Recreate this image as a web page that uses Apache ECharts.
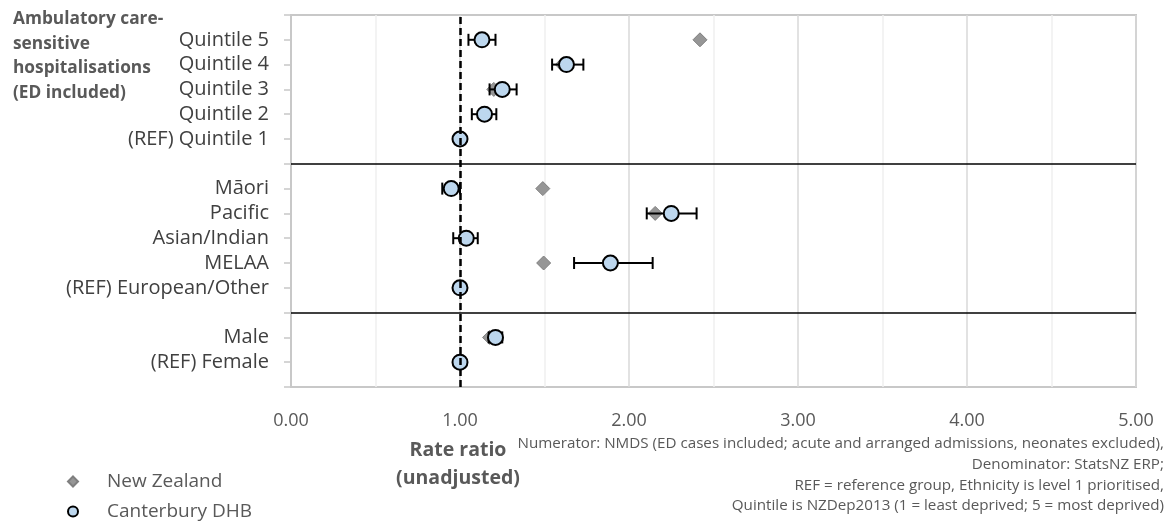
<!DOCTYPE html>
<html>
<head>
<meta charset="utf-8">
<script src="https://cdn.jsdelivr.net/npm/echarts@6/dist/echarts.min.js"></script>
<style>
html,body{margin:0;padding:0;background:#fff;}
#c{width:1167px;height:524px;}
</style>
</head>
<body>
<div id="c"></div>
<script>
// Rows from top to bottom ('' = spacer / separator row)
const rowLabels = ['', 'Quintile 5', 'Quintile 4', 'Quintile 3', 'Quintile 2', '(REF) Quintile 1', '',
  'Māori', 'Pacific', 'Asian/Indian', 'MELAA', '(REF) European/Other', '',
  'Male', '(REF) Female', ''];
const nzRate   = [null, 2.42, 1.605, 1.20, 1.14, 1.00, null, 1.49, 2.155, 1.03, 1.495, 1.00, null, 1.175, 1.00, null];
const cdhbRate = [null, 1.13, 1.63, 1.25, 1.145, 1.00, null, 0.948, 2.25, 1.037, 1.89, 1.00, null, 1.21, 1.00, null];
const cdhbLow  = [null, 1.05, 1.545, 1.175, 1.07, null, null, 0.895, 2.105, 0.96, 1.675, null, null, 1.17, null, null];
const cdhbHigh = [null, 1.21, 1.73, 1.335, 1.215, null, null, 1.00, 2.40, 1.105, 2.14, null, null, 1.25, null, null];
const xTicks = [0, 1, 2, 3, 4, 5];
const seriesNames = ['New Zealand', 'Canterbury DHB'];
const groupTitle = 'Ambulatory care-\nsensitive\nhospitalisations\n(ED included)';
const axisTitle = 'Rate ratio\n(unadjusted)';
const footnote = 'Numerator: NMDS (ED cases included; acute and arranged admissions, neonates excluded),\nDenominator: StatsNZ ERP;\nREF = reference group, Ethnicity is level 1 prioritised,\nQuintile is NZDep2013 (1 = least deprived; 5 = most deprived)';

const nRows = rowLabels.length;
const yOf = i => nRows - 1 - i;
const labelByY = {};
rowLabels.forEach((l, i) => { labelByY[yOf(i)] = l; });
const nzData = [], cdhbData = [], errData = [], sepYs = [];
rowLabels.forEach((l, i) => {
  if (nzRate[i] != null) nzData.push([nzRate[i], yOf(i)]);
  if (cdhbRate[i] != null) cdhbData.push([cdhbRate[i], yOf(i)]);
  if (cdhbLow[i] != null) errData.push([cdhbLow[i], cdhbHigh[i], yOf(i)]);
  if (l === '' && i > 0 && i < nRows - 1) sepYs.push(yOf(i));
});

const FONT = 'Open Sans';
const legendText = { fontSize: 19, color: '#595959', fontFamily: FONT, padding: [0, 0, 0, 24] };
const chart = echarts.init(document.getElementById('c'));
chart.setOption({
  animation: false,
  textStyle: { fontFamily: FONT },
  grid: { left: 291, right: 31, top: 15, bottom: 137, show: true, borderColor: '#c8c8c8', borderWidth: 2 },
  xAxis: {
    type: 'value', min: 0, max: 5, interval: 0.5,
    axisLine: { show: false }, axisTick: { show: false },
    axisLabel: {
      margin: 25, fontSize: 18, color: '#595959', fontFamily: FONT,
      formatter: v => xTicks.indexOf(v) >= 0 ? v.toFixed(2) : ''
    },
    splitLine: { show: true, lineStyle: { color: ['#d9d9d9', '#efefef'], width: 1.5 } }
  },
  yAxis: {
    type: 'value', min: 0, max: nRows - 1, interval: 1,
    axisLine: { show: true, lineStyle: { color: '#c8c8c8', width: 2 } },
    axisTick: { show: true, length: 7, lineStyle: { color: '#c8c8c8', width: 1.5 } },
    axisLabel: { margin: 22, fontSize: 20, color: '#404040', fontFamily: FONT, formatter: v => labelByY[v] || '' },
    splitLine: { show: false }
  },
  legend: [
    { left: 62, top: 467, itemWidth: 10, itemHeight: 10, textStyle: legendText, data: [seriesNames[0]] },
    { left: 62, top: 497, itemWidth: 10, itemHeight: 10, textStyle: legendText, data: [seriesNames[1]] }
  ],
  graphic: [
    { type: 'text', x: 13, y: 7, style: { text: groupTitle, font: 'bold 17.3px "Open Sans"', fill: '#595959', lineHeight: 24.6 } },
    { type: 'text', x: 458, y: 436, style: { text: axisTitle, font: 'bold 19.5px "Open Sans"', fill: '#595959', lineHeight: 28, align: 'center' } },
    { type: 'text', x: 1164, y: 433.6, style: { text: footnote, font: '15.2px "Open Sans"', fill: '#595959', lineHeight: 20.7, align: 'right' } }
  ],
  series: [
    {
      name: 'errbar', type: 'custom', z: 3, silent: true,
      encode: { x: [0, 1], y: 2 },
      data: errData,
      renderItem: (params, api) => {
        const y = api.value(2);
        const a = api.coord([api.value(0), y]);
        const b = api.coord([api.value(1), y]);
        const h = 6;
        const st = { stroke: '#000', lineWidth: 2 };
        return { type: 'group', children: [
          { type: 'line', shape: { x1: a[0], y1: a[1], x2: b[0], y2: b[1] }, style: st },
          { type: 'line', shape: { x1: a[0], y1: a[1] - h, x2: a[0], y2: a[1] + h }, style: st },
          { type: 'line', shape: { x1: b[0], y1: b[1] - h, x2: b[0], y2: b[1] + h }, style: st }
        ] };
      }
    },
    {
      name: seriesNames[0], type: 'scatter', z: 2, symbol: 'diamond', symbolSize: 14,
      itemStyle: { color: '#969696', borderColor: '#7f7f7f', borderWidth: 1, opacity: 1 },
      data: nzData,
      markLine: {
        silent: true, symbol: 'none', label: { show: false },
        data: [
          { xAxis: 1, lineStyle: { color: '#000', type: [7, 4], width: 2.5 } }
        ].concat(sepYs.map(v => ({ yAxis: v, lineStyle: { color: '#000', type: 'solid', width: 1.6 } })))
      }
    },
    {
      name: seriesNames[1], type: 'scatter', z: 4, symbol: 'circle', symbolSize: 15,
      itemStyle: { color: '#bdd7ee', borderColor: '#000', borderWidth: 2, opacity: 1 },
      data: cdhbData
    }
  ]
});
</script>
</body>
</html>
